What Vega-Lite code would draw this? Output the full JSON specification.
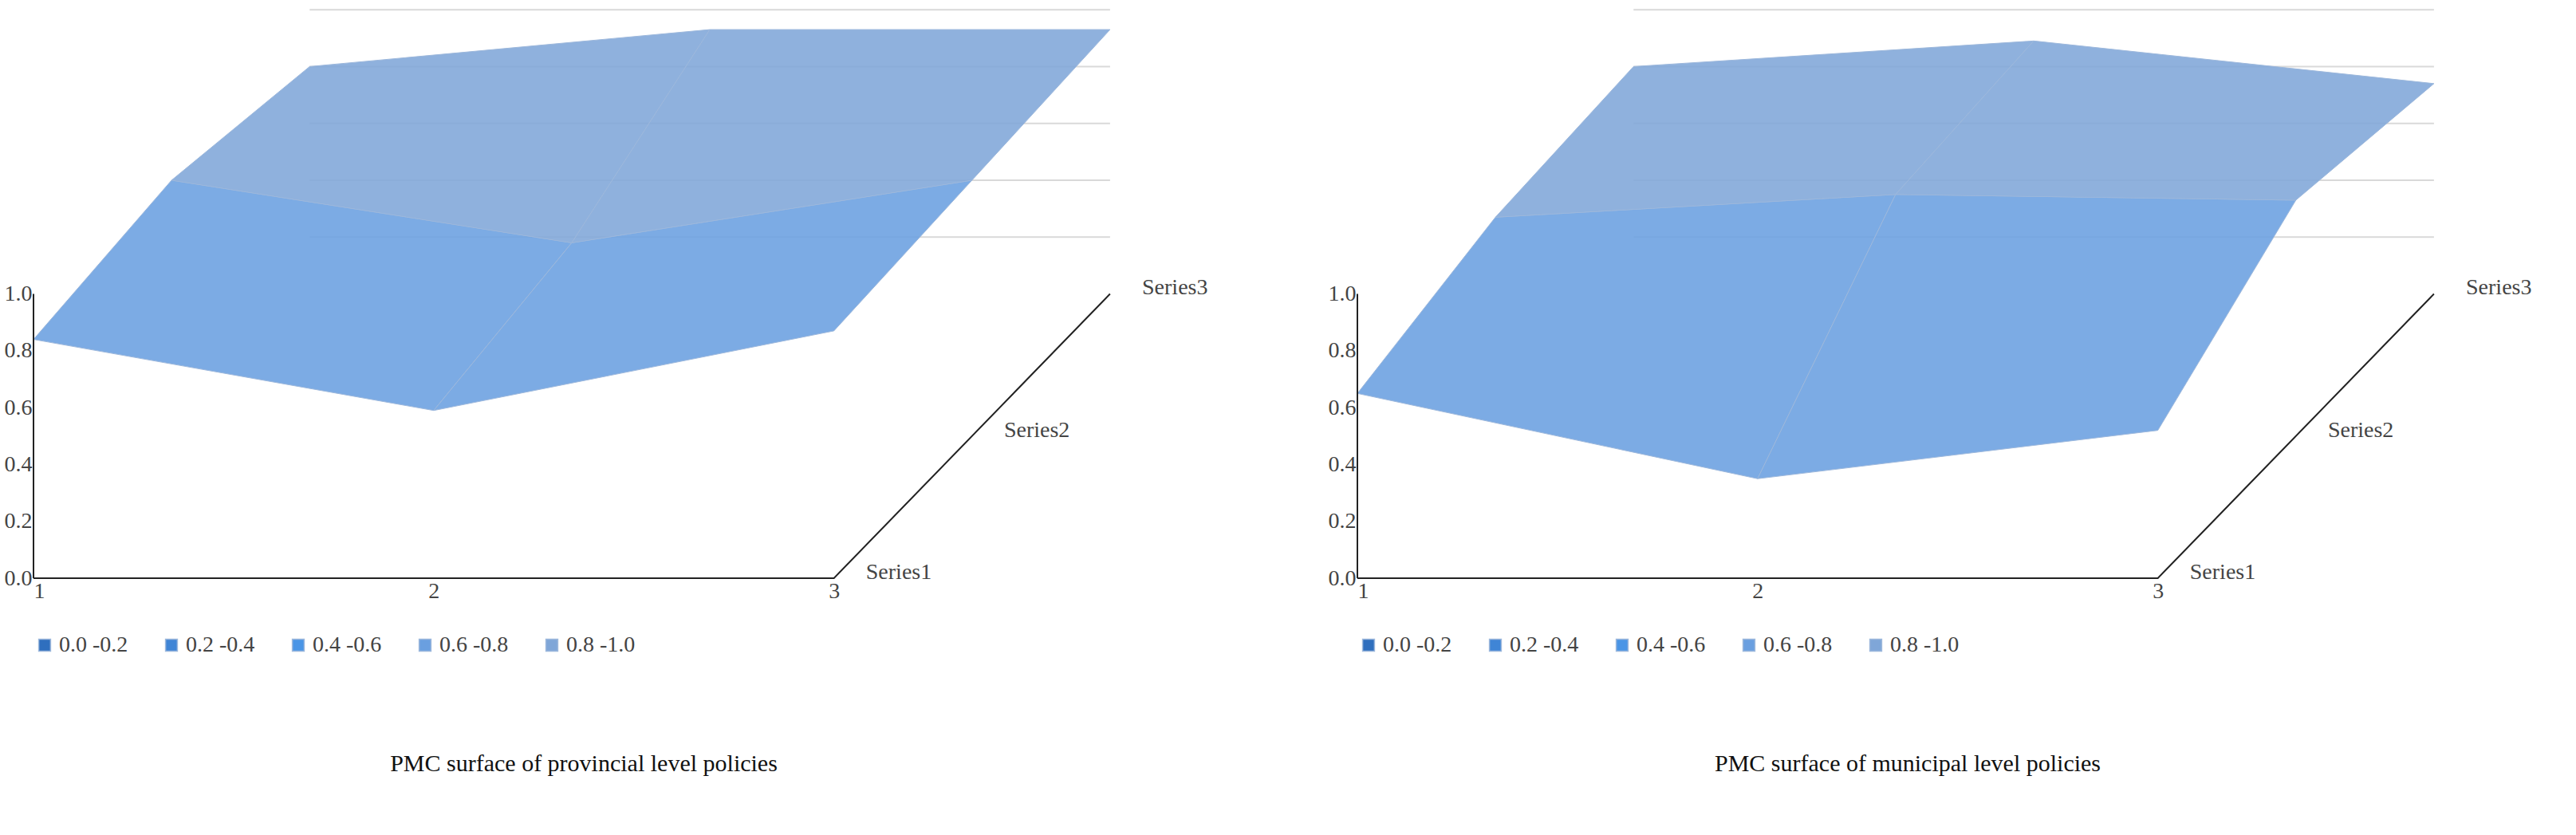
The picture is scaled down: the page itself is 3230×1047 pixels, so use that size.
{
  "$schema": "https://vega.github.io/schema/vega-lite/v6.json",
  "background": "white",
  "config": {
    "font": "Liberation Serif",
    "view": {"stroke": null},
    "axis": {"labelFont": "Liberation Serif", "labelFontSize": 28, "labelColor": "#444", "grid": false, "domain": false, "ticks": false, "title": null},
    "legend": {"labelFont": "Liberation Serif", "labelFontSize": 28, "labelColor": "#444", "symbolType": "square", "symbolSize": 220, "orient": "bottom", "direction": "horizontal", "title": null, "columnPadding": 40, "offset": 40},
    "title": {"font": "Liberation Serif", "fontSize": 30, "fontWeight": "normal", "orient": "bottom", "color": "#111", "offset": 120}
  },
  "datasets": {
    "surface": [
      {"panel": "P", "quad": "a", "k": 1, "x": 1, "s": 1, "v": 0.84, "band": "0.6 -0.8"},
      {"panel": "P", "quad": "a", "k": 2, "x": 2, "s": 1, "v": 0.59, "band": "0.6 -0.8"},
      {"panel": "P", "quad": "a", "k": 3, "x": 2, "s": 2, "v": 0.68, "band": "0.6 -0.8"},
      {"panel": "P", "quad": "a", "k": 4, "x": 1, "s": 2, "v": 0.90, "band": "0.6 -0.8"},
      {"panel": "P", "quad": "b", "k": 1, "x": 2, "s": 1, "v": 0.59, "band": "0.6 -0.8"},
      {"panel": "P", "quad": "b", "k": 2, "x": 3, "s": 1, "v": 0.87, "band": "0.6 -0.8"},
      {"panel": "P", "quad": "b", "k": 3, "x": 3, "s": 2, "v": 0.90, "band": "0.6 -0.8"},
      {"panel": "P", "quad": "b", "k": 4, "x": 2, "s": 2, "v": 0.68, "band": "0.6 -0.8"},
      {"panel": "P", "quad": "c", "k": 1, "x": 1, "s": 2, "v": 0.90, "band": "0.8 -1.0"},
      {"panel": "P", "quad": "c", "k": 2, "x": 2, "s": 2, "v": 0.68, "band": "0.8 -1.0"},
      {"panel": "P", "quad": "c", "k": 3, "x": 2, "s": 3, "v": 0.93, "band": "0.8 -1.0"},
      {"panel": "P", "quad": "c", "k": 4, "x": 1, "s": 3, "v": 0.80, "band": "0.8 -1.0"},
      {"panel": "P", "quad": "d", "k": 1, "x": 2, "s": 2, "v": 0.68, "band": "0.8 -1.0"},
      {"panel": "P", "quad": "d", "k": 2, "x": 3, "s": 2, "v": 0.90, "band": "0.8 -1.0"},
      {"panel": "P", "quad": "d", "k": 3, "x": 3, "s": 3, "v": 0.93, "band": "0.8 -1.0"},
      {"panel": "P", "quad": "d", "k": 4, "x": 2, "s": 3, "v": 0.93, "band": "0.8 -1.0"},
      {"panel": "M", "quad": "a", "k": 1, "x": 1, "s": 1, "v": 0.65, "band": "0.6 -0.8"},
      {"panel": "M", "quad": "a", "k": 2, "x": 2, "s": 1, "v": 0.35, "band": "0.6 -0.8"},
      {"panel": "M", "quad": "a", "k": 3, "x": 2, "s": 2, "v": 0.85, "band": "0.6 -0.8"},
      {"panel": "M", "quad": "a", "k": 4, "x": 1, "s": 2, "v": 0.77, "band": "0.6 -0.8"},
      {"panel": "M", "quad": "b", "k": 1, "x": 2, "s": 1, "v": 0.35, "band": "0.6 -0.8"},
      {"panel": "M", "quad": "b", "k": 2, "x": 3, "s": 1, "v": 0.52, "band": "0.6 -0.8"},
      {"panel": "M", "quad": "b", "k": 3, "x": 3, "s": 2, "v": 0.83, "band": "0.6 -0.8"},
      {"panel": "M", "quad": "b", "k": 4, "x": 2, "s": 2, "v": 0.85, "band": "0.6 -0.8"},
      {"panel": "M", "quad": "c", "k": 1, "x": 1, "s": 2, "v": 0.77, "band": "0.8 -1.0"},
      {"panel": "M", "quad": "c", "k": 2, "x": 2, "s": 2, "v": 0.85, "band": "0.8 -1.0"},
      {"panel": "M", "quad": "c", "k": 3, "x": 2, "s": 3, "v": 0.89, "band": "0.8 -1.0"},
      {"panel": "M", "quad": "c", "k": 4, "x": 1, "s": 3, "v": 0.80, "band": "0.8 -1.0"},
      {"panel": "M", "quad": "d", "k": 1, "x": 2, "s": 2, "v": 0.85, "band": "0.8 -1.0"},
      {"panel": "M", "quad": "d", "k": 2, "x": 3, "s": 2, "v": 0.83, "band": "0.8 -1.0"},
      {"panel": "M", "quad": "d", "k": 3, "x": 3, "s": 3, "v": 0.74, "band": "0.8 -1.0"},
      {"panel": "M", "quad": "d", "k": 4, "x": 2, "s": 3, "v": 0.89, "band": "0.8 -1.0"}
    ],
    "series": [
      {"name": "Series1", "s": 1},
      {"name": "Series2", "s": 2},
      {"name": "Series3", "s": 3}
    ],
    "wall": [
      {"v": 0.2}, {"v": 0.4}, {"v": 0.6}, {"v": 0.8}, {"v": 1.0}
    ]
  },
  "hconcat": [
    {
      "title": "PMC surface of  provincial  level  policies",
      "width": 1380, "height": 720,
      "layer": [
        {
          "data": {"name": "wall"},
          "transform": [{"calculate": "datum.v + 1.0", "as": "py"}],
          "mark": {"type": "rule", "color": "#d9d9d9", "strokeWidth": 2},
          "encoding": {"x": {"datum": 1.69, "scale": {"domain": [1, 3.75], "zero": false, "nice": false}}, "x2": {"datum": 3.69}, "y": {"field": "py", "type": "quantitative", "scale": {"domain": [0, 2.02], "zero": false, "nice": false}}}
        },
        {
          "data": {"name": "surface"},
          "transform": [
            {"filter": "datum.panel == 'P'"},
            {"calculate": "datum.x + 0.345 * (datum.s - 1)", "as": "px"},
            {"calculate": "datum.v + 0.5 * (datum.s - 1)", "as": "py"}
          ],
          "mark": {"type": "line", "filled": true, "interpolate": "linear-closed", "fillOpacity": 0.88, "stroke": "#9db8dc", "strokeWidth": 1},
          "encoding": {
            "x": {"field": "px", "type": "quantitative", "scale": {"domain": [1, 3.75], "zero": false, "nice": false}, "axis": {"values": [1, 2, 3], "format": "d"}},
            "y": {"field": "py", "type": "quantitative", "scale": {"domain": [0, 2.02], "zero": false, "nice": false}, "axis": {"values": [0, 0.2, 0.4, 0.6, 0.8, 1.0], "format": ".1f"}},
            "detail": {"field": "quad"},
            "order": {"field": "k"},
            "fill": {"field": "band", "type": "nominal", "scale": {"domain": ["0.0 -0.2", "0.2 -0.4", "0.4 -0.6", "0.6 -0.8", "0.8 -1.0"], "range": ["#2f6fbe", "#3f85d6", "#4a95e6", "#6a9fe0", "#7fa6d8"]}}
          }
        },
        {
          "data": {"values": [{"a": 1, "b": 0}, {"a": 3, "b": 0}, {"a": 3.69, "b": 1.0}]},
          "mark": {"type": "line", "color": "#222", "strokeWidth": 2},
          "encoding": {"x": {"field": "a", "type": "quantitative", "scale": {"domain": [1, 3.75], "zero": false, "nice": false}}, "y": {"field": "b", "type": "quantitative", "scale": {"domain": [0, 2.02], "zero": false, "nice": false}}}
        },
        {
          "data": {"values": [{"a": 1, "b": 0}, {"a": 1, "b": 1}]},
          "mark": {"type": "line", "color": "#222", "strokeWidth": 2},
          "encoding": {"x": {"field": "a", "type": "quantitative"}, "y": {"field": "b", "type": "quantitative"}}
        },
        {
          "data": {"name": "series"},
          "transform": [
            {"calculate": "3.08 + 0.345 * (datum.s - 1)", "as": "px"},
            {"calculate": "0.5 * (datum.s - 1) + 0.02", "as": "py"}
          ],
          "mark": {"type": "text", "align": "left", "fontSize": 28, "color": "#444"},
          "encoding": {"x": {"field": "px", "type": "quantitative"}, "y": {"field": "py", "type": "quantitative"}, "text": {"field": "name"}}
        }
      ]
    },
    {
      "title": "PMC surface of municipal  level  policies",
      "width": 1380, "height": 720,
      "layer": [
        {
          "data": {"name": "wall"},
          "transform": [{"calculate": "datum.v + 1.0", "as": "py"}],
          "mark": {"type": "rule", "color": "#d9d9d9", "strokeWidth": 2},
          "encoding": {"x": {"datum": 1.69, "scale": {"domain": [1, 3.75], "zero": false, "nice": false}}, "x2": {"datum": 3.69}, "y": {"field": "py", "type": "quantitative", "scale": {"domain": [0, 2.02], "zero": false, "nice": false}}}
        },
        {
          "data": {"name": "surface"},
          "transform": [
            {"filter": "datum.panel == 'M'"},
            {"calculate": "datum.x + 0.345 * (datum.s - 1)", "as": "px"},
            {"calculate": "datum.v + 0.5 * (datum.s - 1)", "as": "py"}
          ],
          "mark": {"type": "line", "filled": true, "interpolate": "linear-closed", "fillOpacity": 0.88, "stroke": "#9db8dc", "strokeWidth": 1},
          "encoding": {
            "x": {"field": "px", "type": "quantitative", "scale": {"domain": [1, 3.75], "zero": false, "nice": false}, "axis": {"values": [1, 2, 3], "format": "d"}},
            "y": {"field": "py", "type": "quantitative", "scale": {"domain": [0, 2.02], "zero": false, "nice": false}, "axis": {"values": [0, 0.2, 0.4, 0.6, 0.8, 1.0], "format": ".1f"}},
            "detail": {"field": "quad"},
            "order": {"field": "k"},
            "fill": {"field": "band", "type": "nominal", "scale": {"domain": ["0.0 -0.2", "0.2 -0.4", "0.4 -0.6", "0.6 -0.8", "0.8 -1.0"], "range": ["#2f6fbe", "#3f85d6", "#4a95e6", "#6a9fe0", "#7fa6d8"]}}
          }
        },
        {
          "data": {"values": [{"a": 1, "b": 0}, {"a": 3, "b": 0}, {"a": 3.69, "b": 1.0}]},
          "mark": {"type": "line", "color": "#222", "strokeWidth": 2},
          "encoding": {"x": {"field": "a", "type": "quantitative", "scale": {"domain": [1, 3.75], "zero": false, "nice": false}}, "y": {"field": "b", "type": "quantitative", "scale": {"domain": [0, 2.02], "zero": false, "nice": false}}}
        },
        {
          "data": {"values": [{"a": 1, "b": 0}, {"a": 1, "b": 1}]},
          "mark": {"type": "line", "color": "#222", "strokeWidth": 2},
          "encoding": {"x": {"field": "a", "type": "quantitative"}, "y": {"field": "b", "type": "quantitative"}}
        },
        {
          "data": {"name": "series"},
          "transform": [
            {"calculate": "3.08 + 0.345 * (datum.s - 1)", "as": "px"},
            {"calculate": "0.5 * (datum.s - 1) + 0.02", "as": "py"}
          ],
          "mark": {"type": "text", "align": "left", "fontSize": 28, "color": "#444"},
          "encoding": {"x": {"field": "px", "type": "quantitative"}, "y": {"field": "py", "type": "quantitative"}, "text": {"field": "name"}}
        }
      ]
    }
  ],
  "spacing": 150,
  "resolve": {"scale": {"fill": "independent"}}
}
